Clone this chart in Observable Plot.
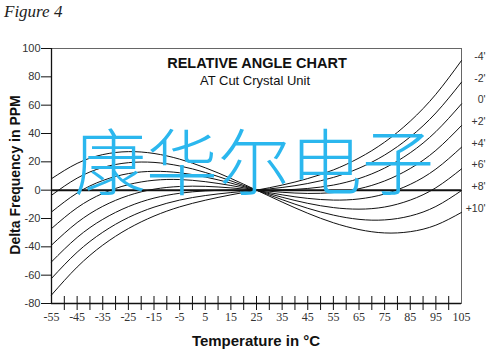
<!DOCTYPE html>
<html>
<head>
<meta charset="utf-8">
<script src="https://cdn.jsdelivr.net/npm/d3@7"></script>
<script src="https://cdn.jsdelivr.net/npm/@observablehq/plot@0.6"></script>
<style>
  body { margin: 0; background: #fff; }
  #chart { width: 500px; height: 353px; }
</style>
</head>
<body>
<div id="chart"></div>
<script>
// Temperatures (°C) at which curve values were read
const temps = [-55, -45, -35, -25, -15, -5, 5, 15, 25, 35, 45, 55, 65, 75, 85, 95, 105];

// Cut-angle labels (right side)
const angles = ["-4'", "-2'", "0'", "+2'", "+4'", "+6'", "+8'", "+10'"];

// Delta frequency (ppm) for each relative cut angle
const curveM4  = [-74.0, -54.3, -38.8, -27.1, -18.3, -11.8, -7.1, -3.3, 0, 3.6, 8.2, 14.3, 22.7, 33.9, 48.7, 67.7, 91.5];
const curveM2  = [-62.3, -43.8, -29.7, -19.3, -12.0, -7.0, -3.8, -1.7, 0, 1.9, 4.7, 9.0, 15.5, 24.8, 37.6, 54.5, 76.2];
const curve0   = [-50.6, -33.4, -20.6, -11.6, -5.6, -2.2, -0.5, 0.0, 0, 0.2, 1.2, 3.6, 8.2, 15.6, 26.4, 41.3, 60.9];
const curveP2  = [-38.8, -22.9, -11.4, -3.8, 0.7, 2.6, 2.7, 1.6, 0, -1.5, -2.3, -1.7, 1.0, 6.5, 15.3, 28.1, 45.6];
const curveP4  = [-27.1, -12.4, -2.3, 3.9, 7.0, 7.5, 6.0, 3.3, 0, -3.3, -5.8, -7.0, -6.2, -2.7, 4.1, 14.9, 30.3];
const curveP6  = [-15.4, -2.0, 6.8, 11.7, 13.3, 12.3, 9.3, 5.0, 0, -5.0, -9.3, -12.3, -13.4, -11.9, -7.0, 1.7, 15.0];
const curveP8  = [-3.6, 8.5, 16.0, 19.4, 19.6, 17.1, 12.5, 6.6, 0, -6.7, -12.8, -17.6, -20.6, -21.0, -18.2, -11.5, -0.3];
const curveP10 = [8.1, 18.9, 25.1, 27.2, 25.9, 21.9, 15.8, 8.3, 0, -8.4, -16.3, -23.0, -27.8, -30.2, -29.3, -24.7, -15.7];

// Axis ticks
const xTickMarks = [-50, -45, -40, -35, -30, -25, -20, -15, -10, -5, 0, 5, 10, 15, 20, 25, 30, 35, 40, 45, 50, 55, 60, 65, 70, 75, 80, 85, 90, 95, 100];
const xTickLabels = [-55, -45, -35, -25, -15, -5, 5, 15, 25, 35, 45, 55, 65, 75, 85, 95, 105];
const yTickLabels = [-80, -60, -40, -20, 0, 20, 40, 60, 80, 100];
const xDomain = [-55, 105];
const yDomain = [-80, 100];

const series = [curveM4, curveM2, curve0, curveP2, curveP4, curveP6, curveP8, curveP10];
const rows = [];
series.forEach((vals, i) => vals.forEach((v, j) => rows.push({angle: angles[i], t: temps[j], v})));
const ends = series.map((vals, i) => ({angle: angles[i], t: temps[temps.length - 1], v: vals[vals.length - 1]}));

const fmt = d => String(d);

const plot = Plot.plot({
  width: 500,
  height: 353,
  marginLeft: 51,
  marginRight: 39,
  marginTop: 48,
  marginBottom: 50,
  style: {fontFamily: "'Liberation Sans', Arial, sans-serif", background: "#fff", color: "#111"},
  x: {domain: xDomain},
  y: {domain: yDomain},
  marks: [
    Plot.frame({stroke: "#666", strokeWidth: 1}),
    Plot.line(rows, {x: "t", y: "v", z: "angle", curve: "natural", stroke: "#111", strokeWidth: 1}),
    Plot.ruleY([0], {stroke: "#111", strokeWidth: 2}),
    Plot.ruleX([xDomain[0]], {stroke: "#111", strokeWidth: 1.3}),
    Plot.ruleY([yDomain[0]], {stroke: "#111", strokeWidth: 1.3}),
    Plot.ruleX(xTickMarks, {y1: yDomain[0], y2: yDomain[0], insetTop: -7, insetBottom: -7, stroke: "#111", strokeWidth: 1}),
    Plot.axisY(yTickLabels, {tickSize: 10, tickPadding: 1, tickFormat: fmt, fontSize: 11, fill: "#333", stroke: "#111", label: null}),
    Plot.axisX(xTickLabels, {tickSize: 0, tickPadding: 9, tickFormat: fmt, fontSize: 12, fontFamily: "'Liberation Serif', 'Times New Roman', serif", fill: "#333", label: null}),
    Plot.text(ends, {x: "t", y: "v", text: "angle", dx: 24, dy: -4, textAnchor: "end", fontSize: 10.5, fill: "#333"})
  ]
});

document.getElementById("chart").appendChild(plot);

const svg = d3.select(plot);
svg.append("text")
  .attr("x", 4).attr("y", 17)
  .attr("text-anchor", "start")
  .attr("font-family", "'Liberation Serif', 'Times New Roman', serif")
  .attr("font-style", "italic")
  .attr("font-size", 17)
  .attr("fill", "#222")
  .text("Figure 4");

svg.append("text")
  .attr("x", 257).attr("y", 68)
  .attr("text-anchor", "middle")
  .attr("font-family", "'Liberation Sans', Arial, sans-serif")
  .attr("font-weight", "bold")
  .attr("font-size", 14.5)
  .attr("fill", "#111")
  .text("RELATIVE ANGLE CHART");

svg.append("text")
  .attr("x", 255).attr("y", 85)
  .attr("text-anchor", "middle")
  .attr("font-family", "'Liberation Sans', Arial, sans-serif")
  .attr("font-size", 13)
  .attr("fill", "#111")
  .text("AT Cut Crystal Unit");

svg.append("text")
  .attr("x", 256).attr("y", 346)
  .attr("text-anchor", "middle")
  .attr("font-family", "'Liberation Sans', Arial, sans-serif")
  .attr("font-weight", "bold")
  .attr("font-size", 15)
  .attr("fill", "#111")
  .text("Temperature in °C");

svg.append("text")
  .attr("transform", "translate(20,175) rotate(-90)")
  .attr("text-anchor", "middle")
  .attr("font-family", "'Liberation Sans', Arial, sans-serif")
  .attr("font-weight", "bold")
  .attr("font-size", 14)
  .attr("fill", "#111")
  .text("Delta Frequency in PPM");

svg.append("text")
  .attr("x", 254).attr("y", 157)
  .attr("text-anchor", "middle")
  .attr("dominant-baseline", "central")
  .attr("font-family", "'Noto Sans CJK SC', sans-serif")
  .attr("font-weight", 200)
  .attr("font-size", 72)
  .attr("fill", "#2bb7ee")
  .text("康华尔电子");
</script>
</body>
</html>
